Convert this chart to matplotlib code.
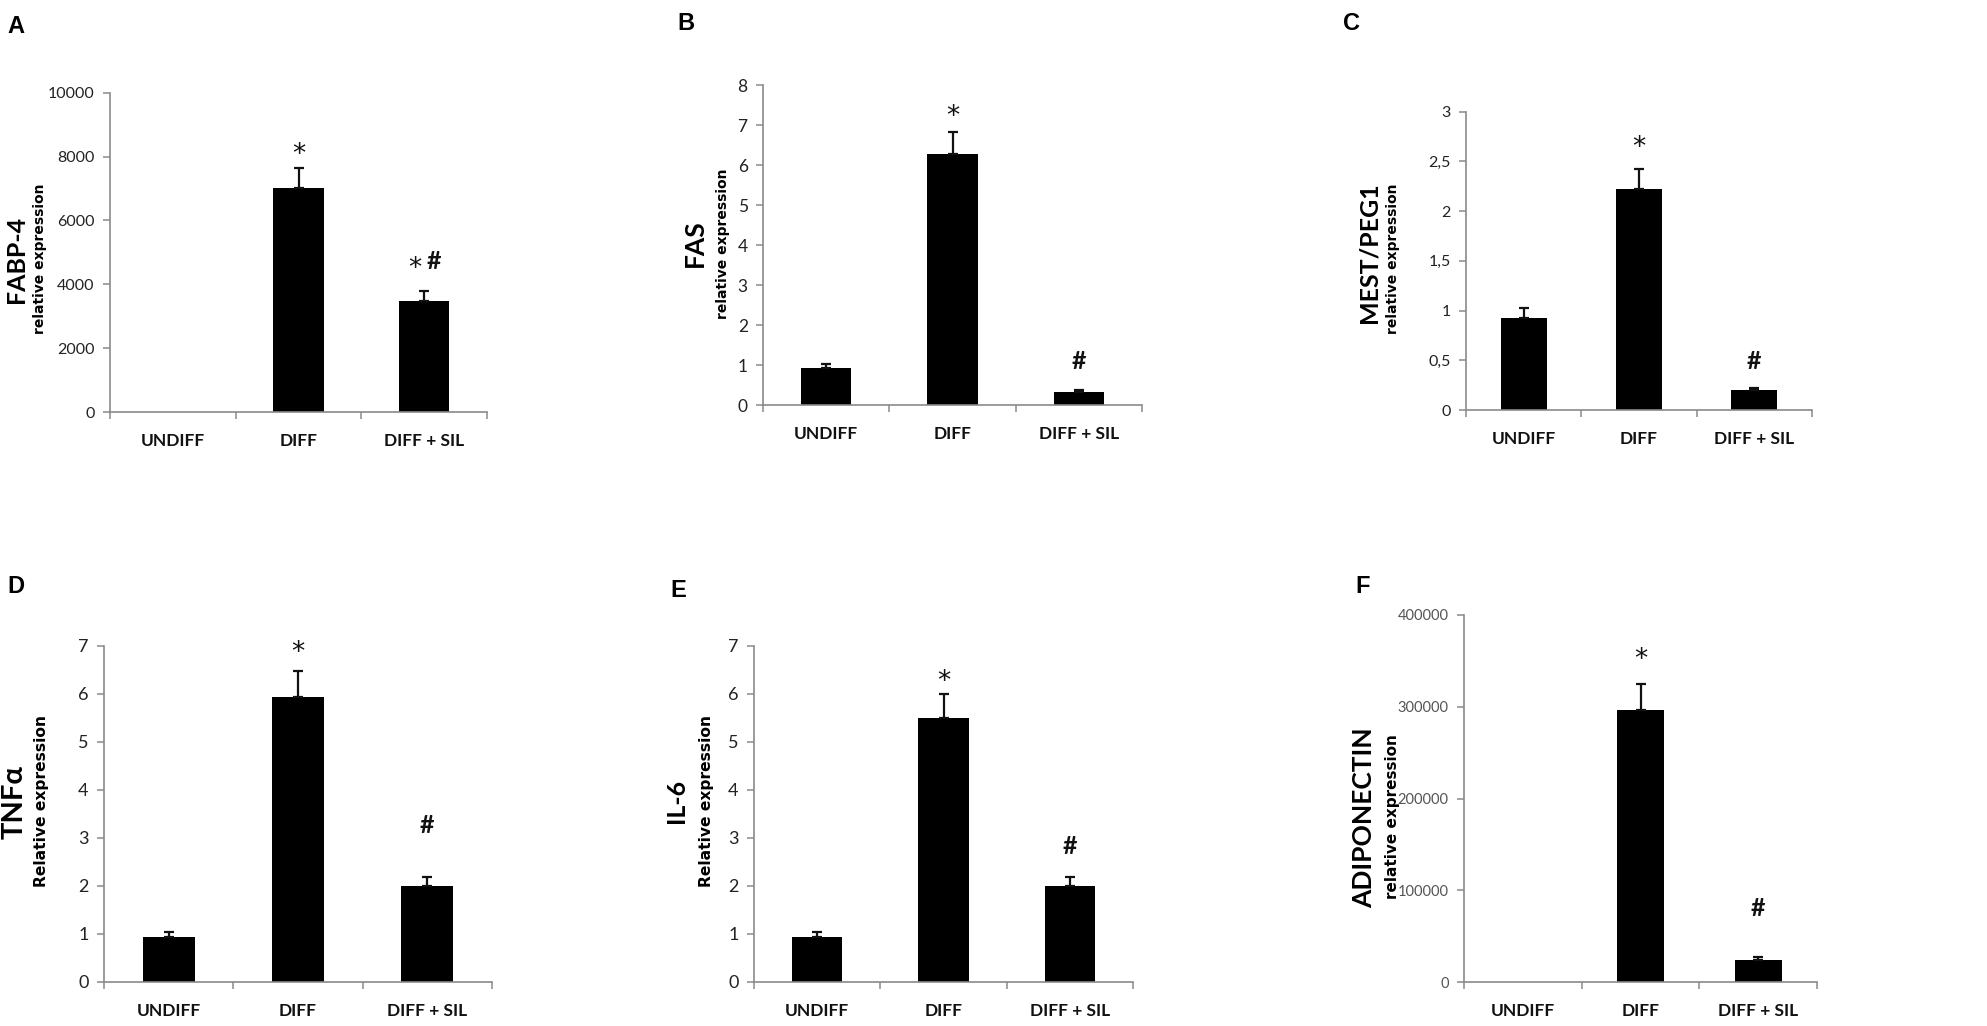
import matplotlib
matplotlib.use("Agg")
import matplotlib.pyplot as plt
import numpy as np

plt.rcParams['font.family'] = ['Lato', 'DejaVu Sans']

# ---------------- data ----------------
categories = ['UNDIFF', 'DIFF', 'DIFF + SIL']

fabp4 = [0, 7020, 3480]
fabp4_err = [0, 630, 310]
fas = [0.92, 6.28, 0.33]
fas_err = [0.11, 0.55, 0.04]
mest = [0.93, 2.22, 0.20]
mest_err = [0.10, 0.20, 0.02]
tnfa = [0.94, 5.94, 2.00]
tnfa_err = [0.10, 0.53, 0.18]
il6 = [0.94, 5.51, 2.00]
il6_err = [0.10, 0.50, 0.18]
adipo = [0, 297000, 23600]
adipo_err = [0, 27600, 3300]

ticks_a = [0, 2000, 4000, 6000, 8000, 10000]
ticks_b = [0, 1, 2, 3, 4, 5, 6, 7, 8]
ticks_c = [0, 0.5, 1, 1.5, 2, 2.5, 3]
ticklabels_c = ['0', '0,5', '1', '1,5', '2', '2,5', '3']
ticks_de = [0, 1, 2, 3, 4, 5, 6, 7]
ticks_f = [0, 100000, 200000, 300000, 400000]

# significance marks: (category index, text, height)
marks_a = [(1, '*', 8270), (2, '* #', 4710)]
marks_b = [(1, '*', 7.38), (2, '#', 1.08)]
marks_c = [(1, '*', 2.70), (2, '#', 0.49)]
marks_d = [(1, '*', 6.99), (2, '#', 3.27)]
marks_e = [(1, '*', 6.40), (2, '#', 2.82)]
marks_f = [(1, '*', 358000), (2, '#', 80600)]

W, H = 1987, 1026
fig = plt.figure(figsize=(W / 100, H / 100), dpi=100)

def px_axes(left, right, top, bottom):
    return fig.add_axes([left / W, 1 - bottom / H, (right - left) / W, (bottom - top) / H])

panels = [
    dict(box=(110, 487, 92.7, 412), vals=fabp4, err=fabp4_err, ticks=ticks_a, labels=None,
         marks=marks_a, letter='A', lpos=(7, 33),
         main='FABP-4', main_fs=18, main_pos=(17, 259),
         sub='relative expression', sub_fs=10, sub_pos=(40, 259), tcol='#222222', tfs=11.5),
    dict(box=(763, 1142, 85.3, 405), vals=fas, err=fas_err, ticks=ticks_b, labels=None,
         marks=marks_b, letter='B', lpos=(677, 30),
         main='FAS', main_fs=19, main_pos=(695, 243),
         sub='relative expression', sub_fs=10, sub_pos=(723, 244), tcol='#222222', tfs=12.5),
    dict(box=(1466, 1812, 111.7, 410), vals=mest, err=mest_err, ticks=ticks_c, labels=ticklabels_c,
         marks=marks_c, letter='C', lpos=(1343, 30),
         main='MEST/PEG1', main_fs=18, main_pos=(1369, 253),
         sub='relative expression', sub_fs=10, sub_pos=(1393, 259), tcol='#222222', tfs=11.5),
    dict(box=(104, 492, 646, 982), vals=tnfa, err=tnfa_err, ticks=ticks_de, labels=None,
         marks=marks_d, letter='D', lpos=(7, 593),
         main='TNFα', main_fs=21, main_pos=(15, 802),
         sub='Relative expression', sub_fs=11.2, sub_pos=(42, 801), tcol='#222222', tfs=13),
    dict(box=(754, 1133, 646, 982), vals=il6, err=il6_err, ticks=ticks_de, labels=None,
         marks=marks_e, letter='E', lpos=(670, 597),
         main='IL-6', main_fs=18, main_pos=(677, 801),
         sub='Relative expression', sub_fs=11.2, sub_pos=(706, 801), tcol='#222222', tfs=13),
    dict(box=(1464, 1817, 615, 982), vals=adipo, err=adipo_err, ticks=ticks_f, labels=None,
         marks=marks_f, letter='F', lpos=(1355, 593),
         main='ADIPONECTIN', main_fs=19, main_pos=(1364, 818),
         sub='relative expression', sub_fs=11, sub_pos=(1393, 817), tcol='#555555', tfs=10.5),
]

axis_col = '#8a8a8a'
x = np.arange(len(categories))

for p in panels:
    ax = px_axes(*p['box'])
    vals = np.asarray(p['vals'], dtype=float)
    err = np.asarray(p['err'], dtype=float)
    ax.bar(x, vals, width=0.4, color='black', linewidth=0, zorder=2)
    m = err > 0
    ax.errorbar(x[m], vals[m], yerr=[np.zeros(m.sum()), err[m]], fmt='none', ecolor='#111111',
                elinewidth=1.6, capsize=3.8, capthick=1.6, zorder=3)
    ax.set_xlim(-0.5, 2.5)
    ax.set_ylim(p['ticks'][0], p['ticks'][-1])
    ax.set_yticks(p['ticks'])
    if p['labels'] is not None:
        ax.set_yticklabels(p['labels'])
    ax.set_xticks(x)
    ax.set_xticklabels(categories, fontweight='bold', fontsize=12.5, color='#111111')
    ax.set_xticks([-0.5, 0.5, 1.5, 2.5], minor=True)
    ax.tick_params(axis='x', which='major', length=0, pad=15)
    ax.tick_params(axis='x', which='minor', length=5, width=1.1, color=axis_col, direction='out')
    ax.tick_params(axis='y', length=5, width=1.1, color=axis_col, direction='out', pad=6,
                   labelsize=p['tfs'], labelcolor=p['tcol'])
    for s in ['top', 'right']:
        ax.spines[s].set_visible(False)
    for s in ['left', 'bottom']:
        ax.spines[s].set_color(axis_col)
        ax.spines[s].set_linewidth(1.2)
    for idx, txt, yv in p['marks']:
        parts = txt.split()
        n = len(parts)
        for k, part in enumerate(parts):
            dx = (k - (n - 1) / 2) * 14
            if part == '*':
                ax.annotate('*', xy=(idx, yv), xytext=(dx, -5), textcoords='offset points',
                            ha='center', va='center', fontsize=19, color='#111111',
                            family=['DejaVu Sans'])
            else:
                ax.annotate(part, xy=(idx, yv), xytext=(dx, 0), textcoords='offset points',
                            ha='center', va='center', fontsize=18, fontweight='bold',
                            color='#111111')
    # panel letter
    fig.text(p['lpos'][0] / W, 1 - p['lpos'][1] / H, p['letter'], ha='left', va='baseline',
             fontsize=17, fontweight='bold', family=['Liberation Sans', 'DejaVu Sans'])
    # y labels
    fig.text(p['main_pos'][0] / W, 1 - p['main_pos'][1] / H, p['main'], rotation=90,
             ha='center', va='center', fontsize=p['main_fs'], fontweight='bold')
    fig.text(p['sub_pos'][0] / W, 1 - p['sub_pos'][1] / H, p['sub'], rotation=90,
             ha='center', va='center', fontsize=p['sub_fs'], fontweight='bold',
             family=['DejaVu Sans'])

fig.savefig('out.png', dpi=100, facecolor='white')
